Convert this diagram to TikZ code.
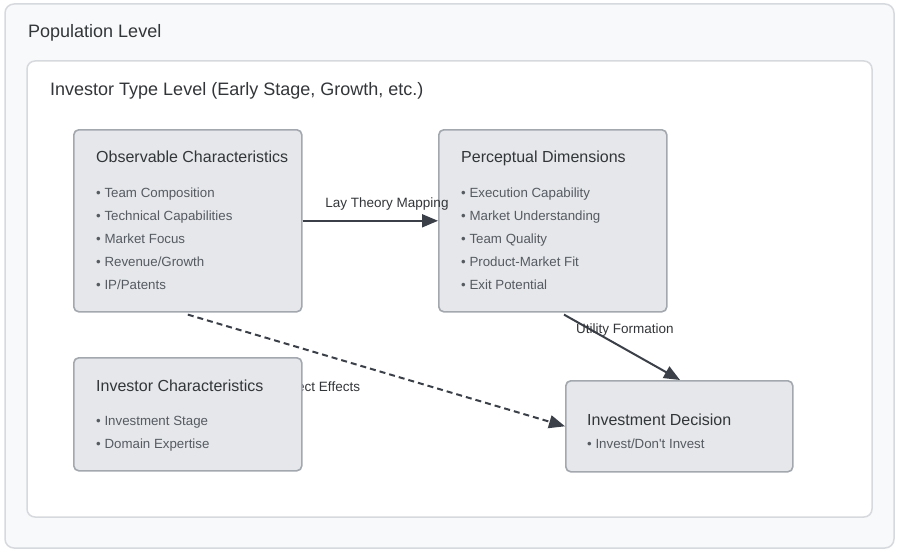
\documentclass[tikz,border=0pt]{standalone}
\usepackage{fontspec}
\setmainfont{Liberation Sans}
\usetikzlibrary{arrows.meta,calc}
\definecolor{outerfill}{HTML}{F8F9FA}
\definecolor{outerline}{HTML}{D6D9DD}
\definecolor{boxfill}{HTML}{E5E7EA}
\definecolor{boxline}{HTML}{A3A8AF}
\definecolor{arrowcol}{HTML}{3B4048}
\definecolor{titlecol}{HTML}{333639}
\definecolor{itemcol}{HTML}{565B62}
\tikzset{
  levelbox/.style={draw=outerline, line width=1.5pt, rounded corners=9pt},
  box/.style={draw=boxline, fill=boxfill, line width=1.6pt, rounded corners=5pt, anchor=north west, inner sep=0pt},
  lvltitle/.style={anchor=base west, inner sep=0pt, text=titlecol},
  boxtitle/.style={anchor=base west, inner sep=0pt, text=titlecol, font=\fontsize{16}{19}\selectfont},
  item/.style={anchor=base west, inner sep=0pt, text=itemcol, font=\fontsize{13.3}{16}\selectfont},
  elabel/.style={inner sep=0pt, text=titlecol, font=\fontsize{13.5}{16}\selectfont},
  arr/.style={draw=arrowcol, line width=2pt, -{Triangle[length=16pt,width=13pt]}},
  dasharr/.style={arr, dash pattern=on 6pt off 4pt},
}
\begin{document}
\begin{tikzpicture}[x=1pt,y=-1pt]
\useasboundingbox (0,0) rectangle (897,551);
% levels
\draw[levelbox, fill=outerfill] (5,4) rectangle (894,548);
\node[lvltitle, font=\fontsize{18}{21}\selectfont] (poptitle) at (28,37.5) {Population Level};
\draw[levelbox, fill=white, rounded corners=8pt] (27,61) rectangle (872,517);
\node[lvltitle, font=\fontsize{18}{21}\selectfont] (invtypetitle) at (50,95.5) {Investor Type Level (Early Stage, Growth, etc.)};

% boxes
\node[box, minimum width=228pt, minimum height=182pt] (obs) at (73,129) {};
\node[box, minimum width=228pt, minimum height=182pt] (per) at (438,129) {};
\node[box, minimum width=227pt, minimum height=91pt] (dec) at (565,380) {};

% observable
\node[boxtitle] (obst) at (96,162.5) {Observable Characteristics};
\node[item] (o1) at (96,197.5) {• Team Composition};
\node[item] (o2) at (96,220) {• Technical Capabilities};
\node[item] (o3) at (96,243) {• Market Focus};
\node[item] (o4) at (96,266) {• Revenue/Growth};
\node[item] (o5) at (96,289) {• IP/Patents};

% perceptual
\node[boxtitle] (pert) at (461,162.5) {Perceptual Dimensions};
\node[item] (p1) at (461,197.5) {• Execution Capability};
\node[item] (p2) at (461,220) {• Market Understanding};
\node[item] (p3) at (461,243) {• Team Quality};
\node[item] (p4) at (461,266) {• Product-Market Fit};
\node[item] (p5) at (461,289) {• Exit Potential};

% decision
\node[boxtitle] (dect) at (587,425.5) {Investment Decision};
\node[item] (d1) at (587,448.5) {• Invest/Don\textquotesingle t Invest};

% connectors
\draw[arr] (obs.east) -- (per.west);
\node[elabel] (l1) at (387,204) {Lay Theory Mapping};
\draw[arr] ([xshift=126pt,yshift=-2pt]per.south west) -- ([xshift=115pt]dec.north west);
\node[elabel] (l2) at (625,330) {Utility Formation};
\draw[dasharr] ([yshift=-2pt]obs.south) -- (dec.west);
\node[elabel] (l3) at (320,387) {Direct Effects};

% investor characteristics (drawn over the label)
\node[box, minimum width=228pt, minimum height=113pt] (inv) at (73,357) {};
\node[boxtitle] (invt) at (96,391.5) {Investor Characteristics};
\node[item] (i1) at (96,425.5) {• Investment Stage};
\node[item] (i2) at (96,448.5) {• Domain Expertise};
\end{tikzpicture}
\end{document}
